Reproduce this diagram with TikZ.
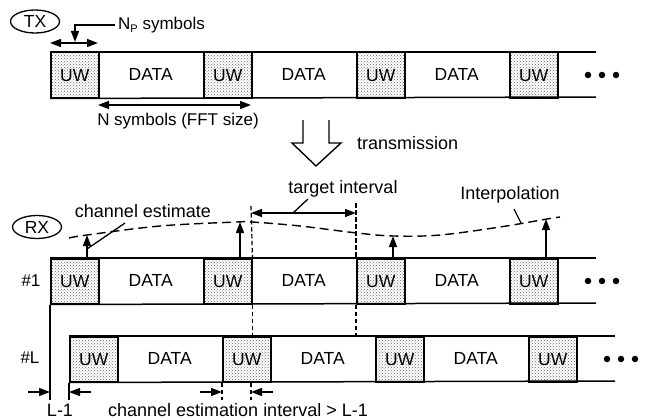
\documentclass[tikz,border=0pt]{standalone}
\usepackage{fontspec}
\setmainfont{Liberation Sans}
\usetikzlibrary{arrows.meta,patterns,shapes.geometric}
\begin{document}
\begin{tikzpicture}[x=1pt,y=-1pt,
  lbl/.style={font=\fontsize{17}{20}\selectfont, inner sep=0},
  lbb/.style={font=\fontsize{18}{21}\selectfont, inner sep=0},
  uw/.style={draw, line width=1.5pt, pattern=crosshatch dots, pattern color=black!60, minimum width=48pt, minimum height=45pt, inner sep=0, anchor=north west, font=\fontsize{17.5}{20}\selectfont},
  datab/.style={minimum width=105pt, minimum height=45pt, inner sep=0, anchor=north west, font=\fontsize{17.5}{20}\selectfont},
  rowline/.style={line width=1.5pt},
  arr/.style={line width=1.4pt, -{Triangle[length=11pt,width=8pt]}},
  darr/.style={line width=1.4pt, {Triangle[length=11pt,width=8pt]}-{Triangle[length=11pt,width=8pt]}},
  vdash/.style={line width=1.2pt, dash pattern=on 4.5pt off 2.5pt},
  cdash/.style={line width=1.4pt, dash pattern=on 9pt off 5pt},
  lead/.style={line width=1.3pt},
  dotc/.style={circle, fill, inner sep=0, minimum size=6.5pt},
  tag/.style={ellipse, draw, line width=1.3pt, minimum width=49pt, minimum height=23pt, inner sep=0, font=\fontsize{17.5}{20}\selectfont},
]
\useasboundingbox (0,0) rectangle (645,420);

% rows
\foreach \r/\x/\y in {tx/50/52, ra/50/258, rb/69/336}{
  \foreach \i in {0,1,2,3}{
    \node[uw] (\r-u\i) at ({\x+153*\i}, \y) {UW};
  }
  \foreach \i in {0,1,2}{
    \node[datab] (\r-d\i) at ({\x+48+153*\i}, \y) {DATA};
  }
  \coordinate (\r-et) at ({\x+546}, \y);
  \coordinate (\r-eb) at ({\x+546}, {\y+45});
  \draw[rowline] (\r-u0.north west) -- (\r-et);
  \draw[rowline] (\r-u0.south west) -- (\r-eb);
}
\node[dotc] (tx-p1) at (588,75) {};
\node[dotc] (tx-p2) at (602,75) {};
\node[dotc] (tx-p3) at (616,75) {};
\node[dotc] (ra-p1) at (588,281) {};
\node[dotc] (ra-p2) at (602,281) {};
\node[dotc] (ra-p3) at (616,281) {};
\node[dotc] (rb-p1) at (607,359) {};
\node[dotc] (rb-p2) at (621,359) {};
\node[dotc] (rb-p3) at (635,359) {};

% tags
\node[tag] (tx) at (35,21.5) {TX};
\node[tag] (rx) at (37,227) {RX};
\node[lbl] (n1) at (31,281) {\#1};
\node[lbl] (nL) at (30,358) {\#L};

% Np
\coordinate (np-l) at (50,43);
\coordinate (np-r) at (98,43);
\draw[darr] (np-l) -- (np-r);
\node[lbl, anchor=west, inner xsep=3pt] (npt) at (115,25) {N\raisebox{-0.35ex}{\fontsize{11}{11}\selectfont P} symbols};
\coordinate (np-tip) at (75,42);
\draw[arr] (npt.west) -| (np-tip);

% N symbols
\coordinate (ns-l) at (98,105);
\coordinate (ns-r) at (251,105);
\draw[darr] (ns-l) -- (ns-r);
\node[lbl] (nst) at (178,121) {N symbols (FFT size)};

% transmission arrow
\draw[line width=1.4pt, line join=miter] (303,120) -- (303,143) -- (292,143) -- (316,166) -- (341,143) -- (329,143) -- (329,120);
\node[lbb, anchor=west] (trans) at (357,143) {transmission};

% interpolation curve
\draw[cdash] plot[smooth, tension=0.6] coordinates {(69,238) (87,235) (160,226) (237,222) (252,222) (300,226) (357,233) (394,236) (440,235) (500,227) (547,219) (560,217)};

% channel estimate arrows
\coordinate (ce0) at (87,235);
\coordinate (ce1) at (240,222);
\coordinate (ce2) at (393,236);
\coordinate (ce3) at (546,219);
\draw[arr] (ra-u0.north west -| ce0) -- (ce0);
\draw[arr] (ra-u1.north west -| ce1) -- (ce1);
\draw[arr] (ra-u2.north west -| ce2) -- (ce2);
\draw[arr] (ra-u3.north west -| ce3) -- (ce3);

% labels with leaders
\node[lbb] (cet) at (143,211) {channel estimate};
\coordinate (cel1) at (125,223);
\coordinate (cel2) at (87,249);
\draw[lead] (cel1) -- (cel2);

\node[lbb] (itp) at (510,195) {Interpolation};
\coordinate (itl1) at (514,209);
\coordinate (itl2) at (521,223);
\draw[lead] (itl1) -- (itl2);

% target interval
\coordinate (tg-a) at (251,206);
\coordinate (tg-b) at (356,203);
\draw[vdash] (tg-a) -- (ra-u1.north east);
\draw[vdash] (tg-b) -- (ra-u2.north west);
\draw[vdash] (ra-u1.south east) -- (ra-u1.south east |- rb-u1.north);
\draw[vdash] (ra-u2.south west) -- (ra-u2.south west |- rb-u2.north);
\coordinate (tg-l) at (251,213);
\coordinate (tg-r) at (356,213);
\draw[darr] (tg-l) -- (tg-r);
\node[lbb] (tgt) at (343,189) {target interval};
\coordinate (tgl1) at (308,199);
\coordinate (tgl2) at (293,213);
\draw[lead] (tgl1) -- (tgl2);

% bottom markers
\coordinate (b0) at (50,400);
\coordinate (b1) at (69,400);
\coordinate (b2) at (222,400);
\coordinate (b3) at (251,400);
\draw[rowline] (ra-u0.south west) -- (b0);
\draw[rowline] (rb-u0.south west) -- (b1);
\draw[vdash] (rb-u1.south west) -- (b2);
\draw[vdash] (b3 |- rb-u1.south) -- (b3);
\coordinate (a0) at (28,392);
\coordinate (a0t) at (50,392);
\coordinate (a1) at (91,392);
\coordinate (a1t) at (69,392);
\coordinate (a2) at (200,392);
\coordinate (a2t) at (222,392);
\coordinate (a3) at (273,392);
\coordinate (a3t) at (251,392);
\draw[arr] (a0) -- (a0t);
\draw[arr] (a1) -- (a1t);
\draw[arr] (a2) -- (a2t);
\draw[arr] (a3) -- (a3t);
\node[lbb] (l1) at (60,410.5) {L-1};
\node[lbb, anchor=west] (cei) at (108,410.5) {channel estimation interval > L-1};
\end{tikzpicture}
\end{document}
